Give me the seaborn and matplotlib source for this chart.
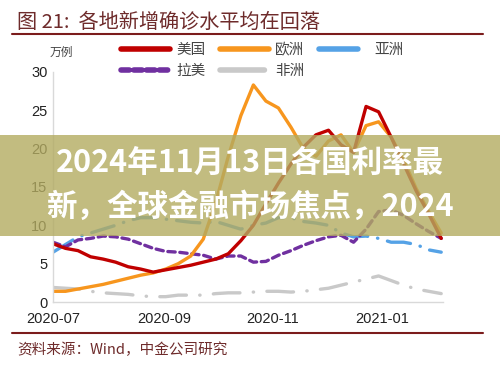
import pandas as pd
import numpy as np
import matplotlib
matplotlib.use('Agg')
import matplotlib.pyplot as plt
import matplotlib.dates as mdates
from matplotlib.lines import Line2D
from matplotlib.patches import Rectangle
import seaborn as sns

# Weekly data, 2020-07-01 .. 2021-02-03 (万例)
dates = pd.date_range('2020-07-01', periods=32, freq='7D')

us = [7.6, 7.0, 6.7, 5.9, 5.6, 5.2, 4.6, 4.3, 3.9, 4.2, 4.5, 4.8, 5.2, 5.6, 6.3, 8.0,
      10.0, 12.8, 15.5, 18.0, 20.2, 21.8, 22.4, 20.5, 19.5, 25.5, 24.8, 21.5, 18.0, 14.5, 11.5, 8.3]
europe = [1.4, 1.4, 1.7, 2.0, 2.3, 2.7, 3.1, 3.5, 3.8, 4.3, 5.0, 6.0, 8.2, 13.0, 19.0, 24.3,
          28.3, 26.2, 25.3, 22.8, 20.0, 19.0, 21.0, 21.8, 19.5, 23.0, 23.5, 21.5, 18.5, 14.8, 11.8, 9.0]
asia = [6.5, 7.5, 8.5, 9.0, 9.5, 10.0, 10.6, 11.0, 11.0, 10.8, 10.6, 10.4, 10.3, 10.5, 10.0, 9.5,
        10.0, 10.3, 11.0, 11.0, 10.5, 10.3, 10.0, 9.0, 8.5, 8.6, 8.3, 7.8, 7.8, 7.5, 6.8, 6.5]
latam = [7.8, 7.2, 8.1, 8.3, 8.6, 8.5, 8.2, 7.6, 7.0, 6.6, 6.5, 6.3, 6.1, 5.6, 6.0, 6.0,
         5.2, 5.3, 6.1, 6.7, 7.4, 8.0, 8.5, 8.7, 7.8, 9.5, 11.8, 12.0, 11.3, 10.2, 9.2, 8.3]
africa = [1.9, 1.8, 1.7, 1.4, 1.2, 1.1, 1.0, 0.8, 0.7, 0.7, 0.9, 0.9, 0.9, 1.1, 1.2, 1.2,
          1.3, 1.4, 1.4, 1.3, 1.4, 1.6, 1.8, 2.2, 2.6, 3.0, 3.4, 2.8, 2.2, 1.7, 1.4, 1.1]

names = ['美国', '欧洲', '亚洲', '拉美', '非洲']
colors = ['#C00000', '#F7961E', '#55A2E6', '#7030A0', '#C9C9C9']
styles = ['-', '-', (0, (7, 3, 0.1, 3)), (0, (2.2, 1.4)), (0, (8, 4, 0.1, 4))]
series = [us, europe, asia, latam, africa]

sns.set_style('white')
plt.rcParams['font.family'] = ['Liberation Sans', 'Noto Sans CJK SC', 'DejaVu Sans']

fig = plt.figure(figsize=(5, 3.67), dpi=100)
ax = fig.add_axes([0.106, 0.177, 0.78, 0.627])

# draw back to front
order = [4, 2, 3, 1, 0]
for i in order:
    sns.lineplot(x=dates, y=series[i], color=colors[i], linewidth=2.4, ax=ax)
    ax.lines[-1].set_linestyle(styles[i])
    ax.lines[-1].set_dash_capstyle('round')

ax.set_ylim(0, 30)
ax.set_yticks([0, 5, 10, 15, 20, 25, 30])
ax.set_xlim(pd.Timestamp('2020-07-01'), pd.Timestamp('2021-02-04'))
ax.set_xticks(pd.to_datetime(['2020-07-01', '2020-09-01', '2020-11-01', '2021-01-01']))
ax.xaxis.set_major_formatter(mdates.DateFormatter('%Y-%m'))
ax.tick_params(labelsize=10.5, colors='#d0d0d0', labelcolor='#222222', direction='in', length=3, pad=4)
ax.tick_params(axis='x', pad=7)
ax.set_xlabel('')
ax.set_ylabel('')
sns.despine(ax=ax)
for s in ['left', 'bottom']:
    ax.spines[s].set_color('#d9d9d9')
    ax.spines[s].set_linewidth(1)

# legend, row-major order
handles = []
for i in range(5):
    h = Line2D([0], [0], color=colors[i], linewidth=4, linestyle=styles[i] if i != 3 else (0, (1.5, 0.8)),
               dash_capstyle='round')
    handles.append(h)
lorder = [0, 3, 1, 4, 2]
leg = fig.legend([handles[k] for k in lorder], [names[k] for k in lorder], ncol=3,
                 loc='upper left', bbox_to_anchor=(0.215, 0.918), frameon=False,
                 handlelength=3.4, handletextpad=0.4, columnspacing=1.0, labelspacing=0.45,
                 prop={'family': ['Noto Sans CJK SC'], 'size': 10.5})
for t in leg.get_texts():
    t.set_color('#444444')

fig.text(0.122, 0.858, '万例', fontsize=8.5, color='#444444', ha='center', va='center',
         family=['Noto Sans CJK SC'])

# header / footer
fig.text(0.034, 0.94, '图 21:  各地新增确诊水平均在回落', fontsize=14.5, color='#6E2B2B',
         ha='left', va='center', family=['Noto Sans CJK SC', 'DejaVu Sans'])
fig.add_artist(Line2D([0.024, 0.966], [0.907, 0.907], color='#7B1C1C', linewidth=1.5,
                      transform=fig.transFigure))
fig.add_artist(Line2D([0.024, 0.966], [0.093, 0.093], color='#7B1C1C', linewidth=1.5,
                      transform=fig.transFigure))
fig.text(0.034, 0.046, '资料来源：Wind，中金公司研究', fontsize=10.5, color='#6E2B2B',
         ha='left', va='center', family=['Noto Sans CJK SC', 'DejaVu Sans'])

# overlay banner
fig.add_artist(Rectangle((0, 0.357), 1, 0.275, transform=fig.transFigure,
                         facecolor=(0.70, 0.67, 0.38), alpha=0.8, edgecolor='none', zorder=5))
fig.text(0.5, 0.556, '2024年11月13日各国利率最', fontsize=22, color='white', fontweight='bold',
         ha='center', va='center', zorder=6, family=['Noto Sans CJK SC'])
fig.text(0.5, 0.436, '新，全球金融市场焦点，2024', fontsize=22, color='white', fontweight='bold',
         ha='center', va='center', zorder=6, family=['Noto Sans CJK SC'])

fig.savefig('out.png', dpi=100)
